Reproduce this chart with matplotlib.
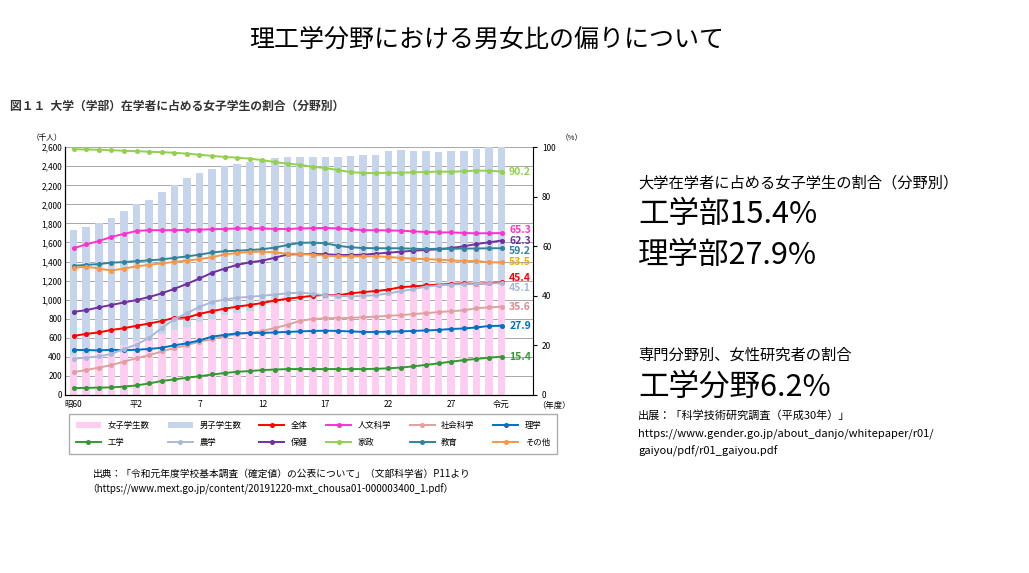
import numpy as np
import matplotlib.pyplot as plt

plt.rcParams['font.family'] = ['Noto Sans CJK JP', 'DejaVu Sans']

# 昭和60年度(1985) 〜 令和元年度(2019)
years = np.arange(35)
tick_pos = [0, 5, 10, 15, 20, 25, 30, 34]
tick_labels = ['昭60', '平2', '7', '12', '17', '22', '27', '令元']

total_students = [1730, 1760, 1800, 1860, 1930, 2000, 2050, 2130, 2200, 2280, 2330, 2370, 2400, 2420, 2440,
                  2470, 2490, 2500, 2500, 2500, 2500, 2500, 2510, 2520, 2520, 2560, 2570, 2560, 2560, 2550,
                  2560, 2560, 2580, 2600, 2610]
female_students = [410, 430, 455, 485, 520, 560, 590, 635, 685, 710, 760, 800, 835, 860, 885, 915, 950, 970,
                   985, 1000, 1010, 1005, 1030, 1045, 1055, 1090, 1120, 1120, 1130, 1135, 1150, 1150, 1155,
                   1170, 1185]

series = {
    '全体': ([23.8, 24.6, 25.2, 26.2, 26.9, 27.9, 28.8, 29.8, 31.1, 31.2, 32.7, 33.8, 34.8, 35.6, 36.3, 37.1,
             38.1, 38.8, 39.4, 40.0, 40.4, 40.2, 41.0, 41.5, 41.9, 42.5, 43.5, 43.8, 44.2, 44.5, 44.8, 45.0,
             44.8, 45.1, 45.4], '#ff0000'),
    '人文科学': ([59.2, 60.8, 62.1, 63.8, 65.0, 66.2, 66.5, 66.5, 66.5, 66.6, 66.7, 66.9, 67.0, 67.2, 67.2,
               67.2, 67.0, 67.0, 67.2, 67.3, 67.4, 67.2, 66.9, 66.5, 66.5, 66.4, 66.3, 66.0, 65.8, 65.6,
               65.6, 65.4, 65.2, 65.3, 65.3], '#ff33cc'),
    '社会科学': ([9.2, 10.0, 11.0, 12.0, 13.4, 14.8, 16.0, 17.5, 18.9, 20.0, 21.5, 22.5, 23.6, 24.5, 25.0,
               25.8, 27.0, 28.3, 29.9, 30.6, 30.9, 31.0, 31.1, 31.3, 31.6, 31.9, 32.2, 32.6, 33.0, 33.4,
               33.8, 34.1, 35.0, 35.3, 35.6], '#e0a0a0'),
    '理学': ([18.1, 18.1, 17.9, 18.2, 18.0, 18.2, 18.5, 19.0, 20.0, 20.8, 22.0, 23.5, 24.2, 24.8, 25.0, 25.0,
             25.2, 25.4, 25.6, 25.8, 25.9, 25.8, 25.6, 25.4, 25.4, 25.5, 25.6, 25.8, 26.0, 26.2, 26.6, 26.8,
             27.2, 27.8, 27.9], '#0070c0'),
    '工学': ([2.7, 2.8, 2.9, 3.0, 3.3, 3.8, 4.6, 5.6, 6.2, 6.9, 7.5, 8.2, 8.8, 9.3, 9.6, 10.0, 10.2, 10.4,
             10.4, 10.4, 10.4, 10.4, 10.4, 10.4, 10.5, 10.7, 11.0, 11.5, 12.1, 12.7, 13.4, 14.0, 14.5, 15.0,
             15.4], '#339933'),
    '農学': ([14.6, 15.0, 15.5, 16.5, 18.5, 20.3, 23.0, 27.0, 30.5, 33.0, 35.5, 37.5, 38.5, 39.2, 39.6, 40.0,
             40.5, 41.0, 41.3, 40.8, 40.2, 40.0, 39.7, 40.0, 40.2, 41.0, 41.8, 42.7, 43.7, 44.2, 44.5, 44.7,
             44.7, 45.0, 45.1], '#aab8d8'),
    '保健': ([33.5, 34.2, 35.3, 36.3, 37.3, 38.3, 39.5, 41.0, 42.8, 44.8, 47.0, 49.3, 51.0, 52.5, 53.5, 54.2,
             55.4, 56.7, 56.8, 56.9, 56.8, 56.5, 56.5, 56.6, 57.0, 57.4, 57.8, 58.2, 58.5, 58.8, 59.3, 60.0,
             60.9, 61.6, 62.3], '#7030a0'),
    '家政': ([99.2, 99.1, 99.0, 98.8, 98.6, 98.4, 98.2, 98.0, 97.8, 97.4, 97.0, 96.5, 96.1, 95.8, 95.4, 94.8,
             94.0, 93.4, 92.9, 92.1, 91.6, 90.8, 90.0, 89.6, 89.6, 89.7, 89.7, 89.9, 90.0, 90.2, 90.1, 90.3,
             90.6, 90.5, 90.2], '#92d050'),
    '教育': ([52.1, 52.5, 52.8, 53.4, 53.6, 54.0, 54.3, 54.7, 55.3, 55.9, 56.6, 57.5, 58.0, 58.2, 58.5, 58.8,
             59.5, 60.5, 61.4, 61.5, 61.2, 60.2, 59.6, 59.3, 59.2, 59.2, 59.2, 59.0, 58.9, 59.0, 59.0, 59.1,
             59.1, 59.2, 59.2], '#31849b'),
    'その他': ([51.2, 51.8, 51.0, 50.2, 51.0, 51.9, 52.5, 53.1, 53.7, 54.2, 54.8, 55.6, 56.7, 57.3, 57.7, 57.8,
              57.5, 57.0, 56.9, 56.6, 56.2, 56.0, 55.9, 55.9, 56.0, 55.7, 55.3, 55.0, 54.8, 54.6, 54.3, 54.0,
              54.1, 53.5, 53.5], '#f79646'),
}
end_label_color = {'全体': '#ff0000', '人文科学': '#ff33cc', '社会科学': '#e08888', '理学': '#0070c0',
                   '工学': '#339933', '農学': '#aab8d8', '保健': '#7030a0', '家政': '#92d050',
                   '教育': '#31849b', 'その他': '#f5a800'}
end_label_shift = {'人文科学': 1.2, '教育': -1.2, '農学': -2.0, '全体': 1.8}

fig = plt.figure(figsize=(10.29, 5.73), dpi=100)
fig.text(0.473, 0.93, '理工学分野における男女比の偏りについて', fontsize=18, ha='center', va='center')
fig.text(0.01, 0.815, '図１１  大学（学部）在学者に占める女子学生の割合（分野別）', fontsize=8.5,
         fontweight='bold', va='center', color='#333333')

ax = fig.add_axes([0.063, 0.311, 0.455, 0.432])
male = np.array(total_students) - np.array(female_students)
ax.bar(years, female_students, width=0.6, color='#ffccf2', label='女子学生数', zorder=1)
ax.bar(years, male, bottom=female_students, width=0.6, color='#c6d5ec', label='男子学生数', zorder=1)
ax.set_ylim(0, 2600)
ax.set_xlim(-0.7, 36.5)
ax.set_yticks(range(0, 2601, 200))
ax.set_yticklabels([f'{v:,}' for v in range(0, 2601, 200)], fontsize=6)
ax.set_xticks(tick_pos)
ax.set_xticklabels(tick_labels, fontsize=6)
ax.tick_params(length=0, pad=2)
ax.tick_params(axis='x', pad=4)
ax.grid(axis='y', color='#999999', lw=0.6)
ax.set_axisbelow(True)
for s in ['top', 'right']:
    ax.spines[s].set_visible(False)
ax.text(-0.07, 1.03, '（千人）', transform=ax.transAxes, fontsize=5.5)
ax.text(36.8, -60, '（年度）', fontsize=6, va='top')

ax2 = ax.twinx()
ax2.set_ylim(0, 100)
ax2.set_yticks(range(0, 101, 20))
ax2.tick_params(labelsize=6, length=3)
ax2.spines['top'].set_visible(False)
ax2.text(1.06, 1.03, '（%）', transform=ax2.transAxes, fontsize=5.5)
for name, (vals, col) in series.items():
    ax2.plot(years, vals, color=col, marker='o', ms=2.6, lw=1.4, label=name, zorder=3)
    ax2.text(34.6, vals[-1] + end_label_shift.get(name, 0), f'{vals[-1]:.1f}', color=end_label_color[name],
             fontsize=7.5, fontweight='bold', va='center')

h1, l1 = ax.get_legend_handles_labels()
h2, l2 = ax2.get_legend_handles_labels()
hs, ls = h1 + h2, l1 + l2
# two rows filled left to right
order = [0, 6, 1, 7, 2, 8, 3, 9, 4, 10, 5, 11]
fig.legend([hs[i] for i in order], [ls[i] for i in order], ncol=6, loc='upper left',
           bbox_to_anchor=(0.063, 0.285), fontsize=6, frameon=True, fancybox=False, edgecolor='#999999',
           handlelength=3, columnspacing=2.2, borderpad=0.8, labelspacing=1.0)

fig.text(0.09, 0.168, '出典：「令和元年度学校基本調査（確定値）の公表について」（文部科学省）P11より', fontsize=7)
fig.text(0.085, 0.14, '（https://www.mext.go.jp/content/20191220-mxt_chousa01-000003400_1.pdf）', fontsize=7)

fig.text(0.62, 0.68, '大学在学者に占める女子学生の割合（分野別）', fontsize=11, va='center')
fig.text(0.62, 0.625, '工学部15.4%', fontsize=22, va='center')
fig.text(0.62, 0.555, '理学部27.9%', fontsize=22, va='center')
fig.text(0.62, 0.38, '専門分野別、女性研究者の割合', fontsize=11, va='center')
fig.text(0.62, 0.325, '工学分野6.2%', fontsize=22, va='center')
fig.text(0.62, 0.275, '出展：「科学技術研究調査（平成30年）」', fontsize=8, va='center')
fig.text(0.62, 0.243, 'https://www.gender.go.jp/about_danjo/whitepaper/r01/', fontsize=8, va='center')
fig.text(0.62, 0.212, 'gaiyou/pdf/r01_gaiyou.pdf', fontsize=8, va='center')

fig.savefig('out.png', dpi=100)
